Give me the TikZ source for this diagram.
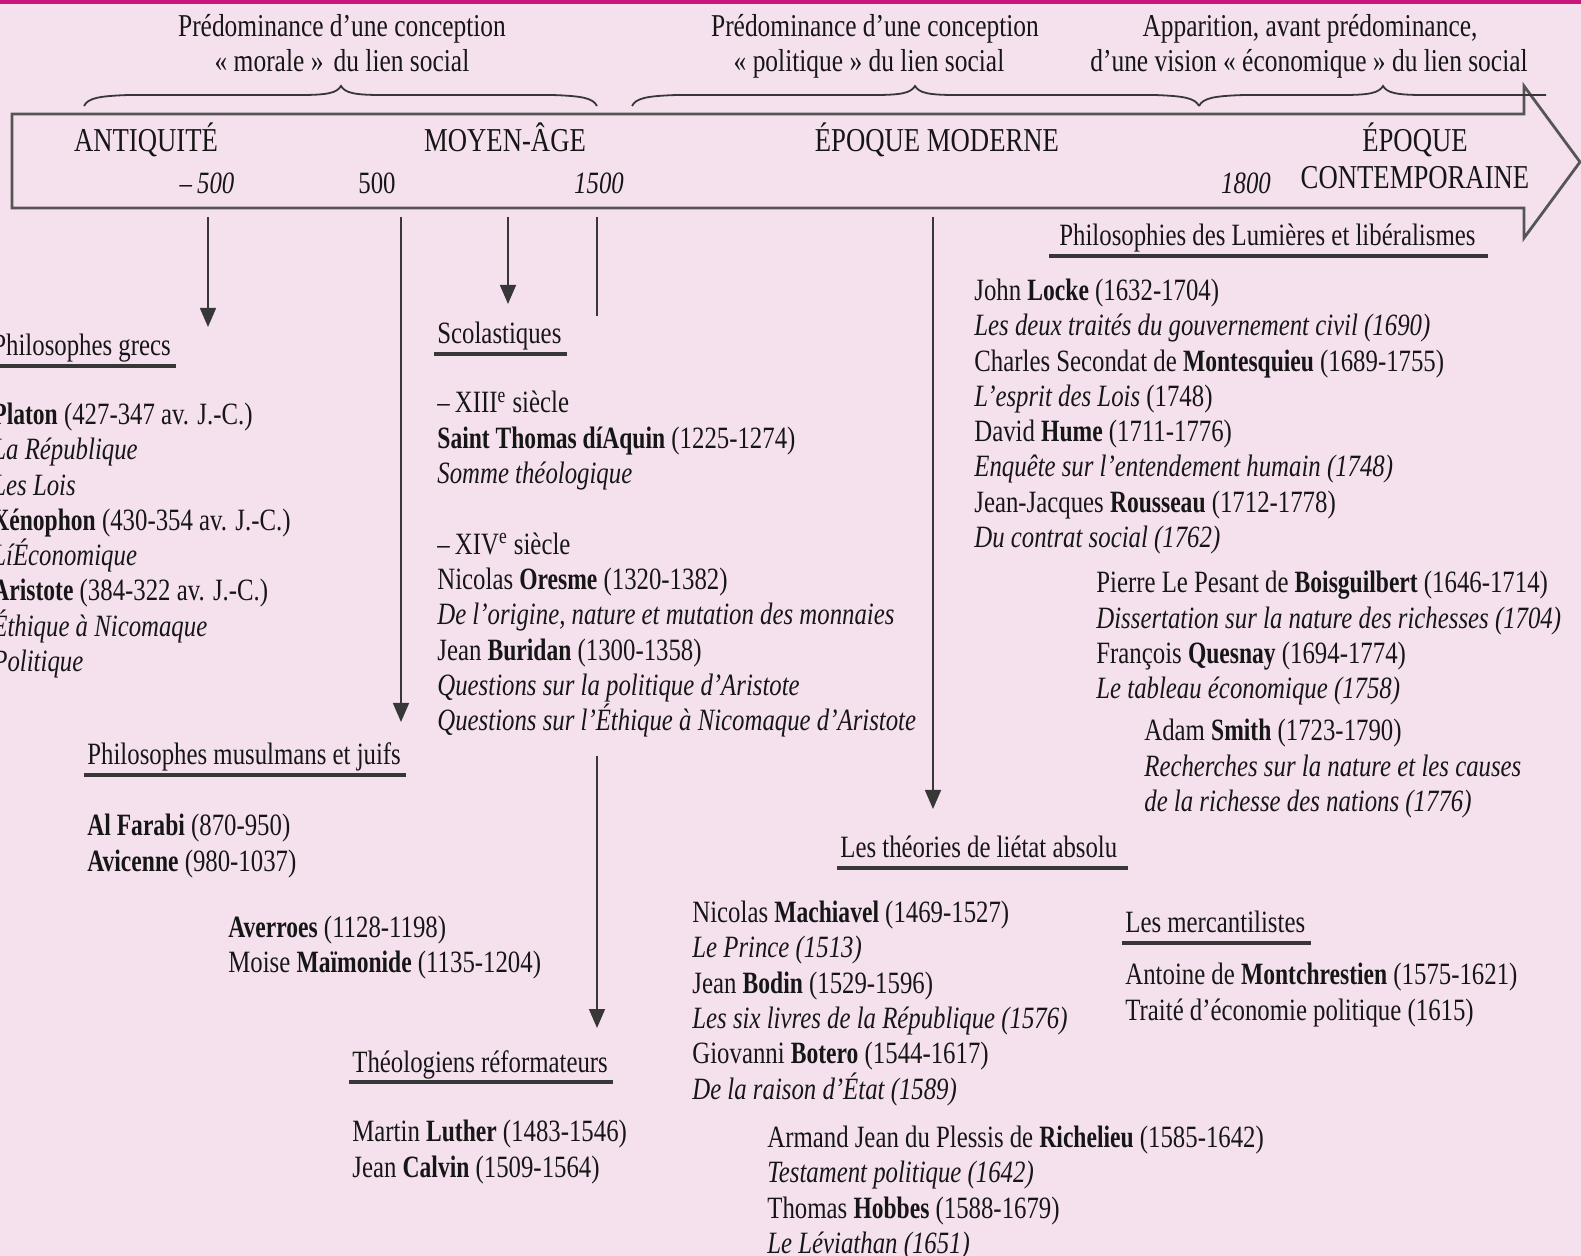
\documentclass[tikz,border=0pt]{standalone}
\usepackage{fontspec}
\setmainfont{Liberation Serif}[FakeStretch=0.80, BoldFeatures={FakeStretch=0.76}]
\usetikzlibrary{arrows.meta,calc}
\definecolor{bg}{RGB}{245,225,238}
\definecolor{mag}{RGB}{200,22,125}
\definecolor{ink}{RGB}{22,22,22}
\definecolor{lin}{RGB}{55,55,55}
\begin{document}
\begin{tikzpicture}[x=0.5pt,y=-0.5pt,
 txt/.style={inner sep=0pt, anchor=base west, font=\fontsize{15.5pt}{17.5pt}\selectfont, text=ink},
 ctr/.style={txt, anchor=base},
 toptxt/.style={ctr, font=\fontsize{15.9pt}{17.5pt}\selectfont},
 per/.style={ctr, font=\fontsize{16.7pt}{18pt}\selectfont},
 ul/.style={draw=lin, line width=2pt},
 con/.style={draw=lin, line width=0.8pt},
 arr/.style={con, -{Triangle[width=8pt,length=9.5pt]}},
 brc/.style={draw=lin, line width=0.9pt},
 shaft/.style={draw=lin!85, line width=1.4pt, line join=miter}]
\fill[bg] (0,0) rectangle (1581,1256);
\useasboundingbox (0,0) rectangle (1581,1256);
\clip (0,0) rectangle (1581,1256);
\fill[mag] (0,0) rectangle (1581,4);

% main arrow
\draw[shaft] (12,114) -- (1524,114) -- (1524,86) -- (1580,162) -- (1524,238) -- (1524,208) -- (12,208) -- cycle;

% braces
\newcommand\bracepath[3]{(#1,106) .. controls (#1+4,98) and (#1+15,96) .. (#1+45,95) -- (#2-40,95) .. controls (#2-14,95) and (#2-4,93) .. (#2,86) .. controls (#2+4,93) and (#2+14,95) .. (#2+40,95) -- (#3-45,95) .. controls (#3-15,96) and (#3-4,98) .. (#3,106)}
\draw[brc] \bracepath{84}{341}{597};
\draw[brc] \bracepath{632}{915}{1199};
\draw[brc] (1199,106) .. controls (1203,98) and (1214,96) .. (1244,95) -- (1343,95) .. controls (1369,95) and (1379,93) .. (1383,86) .. controls (1387,93) and (1397,95) .. (1423,95) -- (1546,95);

% top texts
\node[toptxt] (t1a) at (342,37) {Prédominance d’une conception};
\node[toptxt] (t1b) at (342,72) {«~morale~»\hspace{0.12em} du lien social};
\node[toptxt] (t2a) at (875,37) {Prédominance d’une conception};
\node[toptxt] (t2b) at (869,72) {«~politique~» du lien social};
\node[toptxt] (t3a) at (1310,37) {Apparition, avant prédominance,};
\node[toptxt] (t3b) at (1309,72) {d’une vision «~économique~» du lien social};

% periods
\node[per] (p1) at (146,152) {ANTIQUITÉ};
\node[per] (p2) at (505,152) {MOYEN-ÂGE};
\node[per] (p3) at (937,152) {ÉPOQUE MODERNE};
\node[per] (p4) at (1415,152) {ÉPOQUE};
\node[per] (p5) at (1415,189) {CONTEMPORAINE};
\node[ctr] (d1) at (207,194) {–\,\textit{500}};
\node[ctr] (d2) at (377,194) {500};
\node[ctr] (d3) at (599,194) {\textit{1500}};
\node[ctr] (d4) at (1246,194) {\textit{1800}};

% connectors
\coordinate (c1s) at (208,217); \coordinate (c1e) at (208,327);
\coordinate (c2s) at (401,217); \coordinate (c2e) at (401,722);
\coordinate (c3s) at (508,217); \coordinate (c3e) at (508,304);
\coordinate (c4s) at (597,217); \coordinate (c4e) at (597,316);
\coordinate (c5s) at (597,756); \coordinate (c5e) at (597,1028);
\coordinate (c6s) at (933,217); \coordinate (c6e) at (933,809);
\draw[arr] (c1s) -- (c1e);
\draw[arr] (c2s) -- (c2e);
\draw[arr] (c3s) -- (c3e);
\draw[con] (c4s) -- (c4e);
\draw[arr] (c5s) -- (c5e);
\draw[arr] (c6s) -- (c6e);

% headers
\node[txt] (hg) at (-8,356) {Philosophes grecs};
\node[txt] (hs) at (437,344) {Scolastiques};
\node[txt] (hm) at (87,765) {Philosophes musulmans et juifs};
\node[txt] (ht) at (352,1072) {Théologiens réformateurs};
\node[txt] (hl) at (1059,246) {Philosophies des Lumières et libéralismes};
\node[txt] (ha) at (840,858) {Les théories de liétat absolu};
\node[txt] (hme) at (1125,933) {Les mercantilistes};
\foreach \h in {hg,hs,hm,ht,hme}
  \draw[ul] ($(\h.base west)+(-3,10)$) -- ($(\h.base east)+(5,10)$);
\draw[ul] ($(hl.base west)+(-10,10)$) -- ($(hl.base east)+(12,10)$);
\draw[ul] ($(ha.base west)+(-3,10)$) -- ($(ha.base east)+(10,10)$);

% Greek
\foreach \t [count=\i from 0] in {
 {\textbf{Platon} (427-347 av. J.-C.)},
 {\textit{La République}},
 {\textit{Les Lois}},
 {\textbf{Xénophon} (430-354 av. J.-C.)},
 {\textit{LíÉconomique}},
 {\textbf{Aristote} (384-322 av. J.-C.)},
 {\textit{Éthique à Nicomaque}},
 {\textit{Politique}}}
 \node[txt] (g\i) at (-8,{424.5+35.3*\i}) {\t};

% Scolastiques
\foreach \t [count=\i from 0] in {
 {–\,XIII\textsuperscript{e} siècle},
 {\textbf{Saint Thomas díAquin} (1225-1274)},
 {\textit{Somme théologique}}}
 \node[txt] (sa\i) at (437,{413+35.3*\i}) {\t};
\foreach \t [count=\i from 0] in {
 {–\,XIV\textsuperscript{e} siècle},
 {Nicolas \textbf{Oresme} (1320-1382)},
 {\textit{De l’origine, nature et mutation des monnaies}},
 {Jean \textbf{Buridan} (1300-1358)},
 {\textit{Questions sur la politique d’Aristote}},
 {\textit{Questions sur l’Éthique à Nicomaque d’Aristote}}}
 \node[txt] (sb\i) at (437,{554.2+35.3*\i}) {\t};

% Musulmans et juifs
\node[txt] (m1) at (87,836) {\textbf{Al Farabi} (870-950)};
\node[txt] (m2) at (87,871) {\textbf{Avicenne} (980-1037)};
\node[txt] (m3) at (228,937) {\textbf{Averroes} (1128-1198)};
\node[txt] (m4) at (228,972) {Moise \textbf{Maïmonide} (1135-1204)};

% Theologiens
\node[txt] (r1) at (352,1141) {Martin \textbf{Luther} (1483-1546)};
\node[txt] (r2) at (352,1177) {Jean \textbf{Calvin} (1509-1564)};

% Lumieres
\foreach \t [count=\i from 0] in {
 {John \textbf{Locke} (1632-1704)},
 {\textit{Les deux traités du gouvernement civil (1690)}},
 {Charles Secondat de \textbf{Montesquieu} (1689-1755)},
 {\textit{L’esprit des Lois} (1748)},
 {David \textbf{Hume} (1711-1776)},
 {\textit{Enquête sur l’entendement humain (1748)}},
 {Jean-Jacques \textbf{Rousseau} (1712-1778)},
 {\textit{Du contrat social (1762)}}}
 \node[txt] (la\i) at (974,{300.5+35.3*\i}) {\t};
\foreach \t [count=\i from 0] in {
 {Pierre Le Pesant de \textbf{Boisguilbert} (1646-1714)},
 {\textit{Dissertation sur la nature des richesses (1704)}},
 {François \textbf{Quesnay} (1694-1774)},
 {\textit{Le tableau économique (1758)}}}
 \node[txt] (lb\i) at (1096,{593+35.3*\i}) {\t};
\foreach \t [count=\i from 0] in {
 {Adam \textbf{Smith} (1723-1790)},
 {\textit{Recherches sur la nature et les causes}},
 {\textit{de la richesse des nations (1776)}}}
 \node[txt] (lc\i) at (1144,{741+35.3*\i}) {\t};

% Etat absolu
\foreach \t [count=\i from 0] in {
 {Nicolas \textbf{Machiavel} (1469-1527)},
 {\textit{Le Prince (1513)}},
 {Jean \textbf{Bodin} (1529-1596)},
 {\textit{Les six livres de la République (1576)}},
 {Giovanni \textbf{Botero} (1544-1617)},
 {\textit{De la raison d’État (1589)}}}
 \node[txt] (aa\i) at (692,{922.6+35.3*\i}) {\t};
\foreach \t [count=\i from 0] in {
 {Armand Jean du Plessis de \textbf{Richelieu} (1585-1642)},
 {\textit{Testament politique (1642)}},
 {Thomas \textbf{Hobbes} (1588-1679)},
 {\textit{Le Léviathan (1651)}}}
 \node[txt] (ab\i) at (767,{1147.5+35.3*\i}) {\t};

% Mercantilistes
\node[txt] (me1) at (1125,985) {Antoine de \textbf{Montchrestien} (1575-1621)};
\node[txt] (me2) at (1125,1020) {Traité d’économie politique (1615)};
\end{tikzpicture}
\end{document}
